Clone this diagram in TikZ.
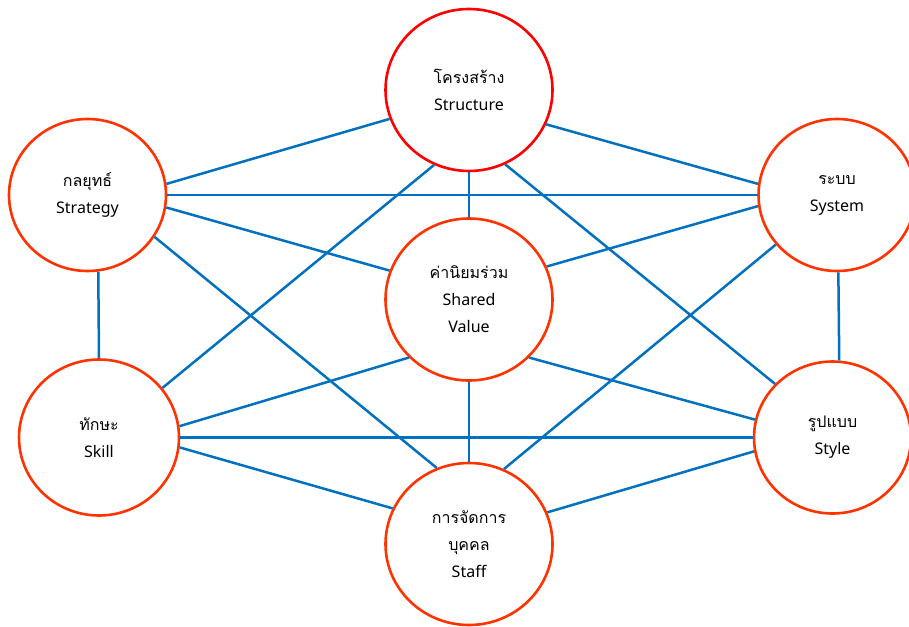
\documentclass[tikz,border=0pt]{standalone}
\usepackage{fontspec}
\setmainfont{Noto Sans}
\newfontfamily\thaifont[Script=Thai]{Loma}
\usetikzlibrary{shapes.geometric}
\definecolor{linkblue}{RGB}{0,112,192}
\definecolor{ringred}{RGB}{255,0,0}
\definecolor{ringorange}{RGB}{255,51,0}

\begin{document}
\begin{tikzpicture}
  [x=1pt,y=-1pt,
   every node/.style={ellipse,draw=ringorange,line width=2.6pt,fill=white,
     align=center,font=\fontsize{16}{27}\selectfont},
   big/.style={minimum width=167pt,minimum height=162pt},
   small/.style={minimum width=157pt,minimum height=152pt},
   link/.style={draw=linkblue,line width=2.5pt}]
  \useasboundingbox (0,0) rectangle (909,626);

  \node[big,draw=ringred] (stru) at (469,90) {{\thaifont โครงสร้าง}\\Structure};
  \node[small] (strat) at (87.5,195) {{\thaifont กลยุทธ์}\\Strategy};
  \node[small] (sys) at (837,195) {{\thaifont ระบบ}\\System};
  \node[big] (val) at (469,299.5) {{\thaifont ค่านิยมร่วม}\\Shared\\Value};
  \node[small,minimum width=160pt,minimum height=156pt] (skill) at (99,437.5) {{\thaifont ทักษะ}\\Skill};
  \node[small] (style) at (832.5,437.5) {{\thaifont รูปแบบ}\\Style};
  \node[big] (staff) at (469,544) {{\thaifont การจัดการ}\\{\thaifont บุคคล}\\Staff};

  \foreach \from/\to in {strat.8/stru.200.4, strat.east/sys.west, strat.-9.2/val.160.7,
      strat.-32.9/staff.113.6, strat.-82/skill.north, stru.-24.6/sys.172.6,
      stru.south/val.north, stru.245.6/skill.38, stru.-64.1/style.137.3,
      sys.188.1/val.23.5, sys.219.3/staff.65.6, sys.-89/style.85.5,
      val.224.3/skill.8.8, val.-44.1/style.167.5, val.south/staff.north,
      skill.east/style.west, skill.-7/staff.155.7, style.190.6/staff.22.6}
    \draw[link] (\from) -- (\to);
\end{tikzpicture}
\end{document}
